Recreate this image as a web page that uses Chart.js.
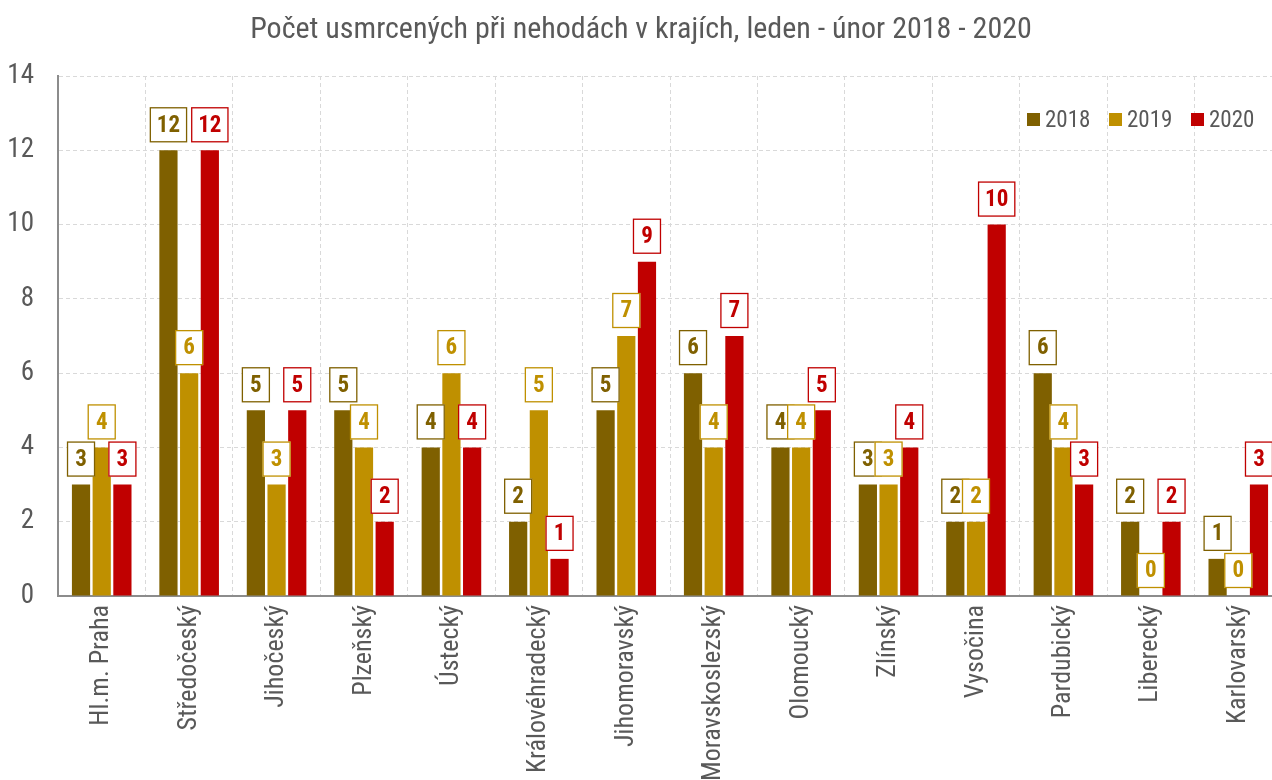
<!DOCTYPE html>
<html>
<head>
<meta charset="utf-8">
<script src="https://cdn.jsdelivr.net/npm/chart.js@4.4.1/dist/chart.umd.min.js"></script>
<style>
  html, body { margin: 0; padding: 0; background: #fff; overflow: hidden; }
  #wrap { width: 1284px; height: 780px; }
</style>
</head>
<body>
<div id="wrap"><canvas id="chart"></canvas></div>
<script>
var FONT = "'Liberation Sans Narrow', 'Arial Narrow', 'Roboto Condensed', 'Liberation Sans', sans-serif";
var TEXT = '#595959';

var kraje = ['Hl.m. Praha', 'Středočeský', 'Jihočeský', 'Plzeňský', 'Ústecký', 'Královéhradecký',
  'Jihomoravský', 'Moravskoslezský', 'Olomoucký', 'Zlínský', 'Vysočina', 'Pardubický', 'Liberecký', 'Karlovarský'];
var roky = ['2018', '2019', '2020'];
var barvy = ['#7F6000', '#BF9000', '#C00000'];
var hodnoty2018 = [3, 12, 5, 5, 4, 2, 5, 6, 4, 3, 2, 6, 2, 1];
var hodnoty2019 = [4, 6, 3, 4, 6, 5, 7, 4, 4, 3, 2, 4, 0, 0];
var hodnoty2020 = [3, 12, 5, 2, 4, 1, 9, 7, 5, 4, 10, 3, 2, 3];
var yTicks = [0, 2, 4, 6, 8, 10, 12, 14];

// popisky hodnot v rámečku nad sloupci + vlastní legenda
var boxLabels = {
  id: 'boxLabels',
  afterDatasetsDraw: function (chart) {
    var ctx = chart.ctx;
    ctx.save();
    ctx.font = 'bold 23px ' + FONT;
    ctx.textAlign = 'center';
    ctx.textBaseline = 'middle';
    chart.data.datasets.forEach(function (ds, i) {
      var meta = chart.getDatasetMeta(i);
      meta.data.forEach(function (bar, j) {
        var txt = String(ds.data[j]);
        var w = Math.max(28, ctx.measureText(txt).width + 14);
        var h = 35;
        var x = bar.x - w / 2;
        var y = bar.y - 8 - h;
        ctx.fillStyle = '#fff';
        ctx.fillRect(x, y, w, h);
        ctx.strokeStyle = ds.backgroundColor;
        ctx.lineWidth = 1.3;
        ctx.strokeRect(x + 0.5, y + 0.5, w - 1, h - 1);
        ctx.fillStyle = ds.backgroundColor;
        ctx.fillText(txt, bar.x, y + h / 2 + 1);
      });
    });
    // legenda
    ctx.font = '23px ' + FONT;
    ctx.textAlign = 'left';
    var lx = 1027, ly = 120;
    chart.data.datasets.forEach(function (ds) {
      ctx.fillStyle = ds.backgroundColor;
      ctx.fillRect(lx, ly - 7, 13, 13);
      ctx.fillStyle = TEXT;
      ctx.fillText(ds.label, lx + 18, ly + 1);
      lx += 82;
    });
    ctx.restore();
  }
};

var datasets = [hodnoty2018, hodnoty2019, hodnoty2020].map(function (d, i) {
  return {
    label: roky[i],
    data: d,
    backgroundColor: barvy[i],
    categoryPercentage: 0.71,
    barPercentage: 0.88
  };
});

new Chart(document.getElementById('chart'), {
  type: 'bar',
  data: { labels: kraje, datasets: datasets },
  plugins: [boxLabels],
  options: {
    responsive: true,
    maintainAspectRatio: false,
    animation: false,
    layout: { padding: { left: 0, right: 2, top: 0, bottom: 0 } },
    plugins: {
      legend: { display: false },
      tooltip: { enabled: false },
      title: {
        display: true,
        text: 'Počet usmrcených při nehodách v krajích, leden - únor 2018 - 2020',
        color: TEXT,
        font: { family: FONT, size: 30, weight: 'normal' },
        padding: { top: 12, bottom: 28 }
      }
    },
    scales: {
      x: {
        grid: { color: '#d9d9d9', lineWidth: 1, drawTicks: false, offset: true },
        border: { color: '#8c8c8c', width: 2, dash: [4, 3] },
        ticks: {
          color: TEXT, font: { family: FONT, size: 26 },
          minRotation: 90, maxRotation: 90, padding: 9, autoSkip: false
        },
        afterFit: function (s) { s.height = 184; }
      },
      y: {
        min: 0, max: 14,
        afterBuildTicks: function (s) { s.ticks = yTicks.map(function (v) { return { value: v }; }); },
        grid: { color: '#d9d9d9', lineWidth: 1, drawTicks: false },
        border: { color: '#8c8c8c', width: 2, dash: [4, 3] },
        ticks: { color: TEXT, font: { family: FONT, size: 27 }, padding: 24 },
        afterFit: function (s) { s.width = 58; }
      }
    }
  }
});
</script>
</body>
</html>
